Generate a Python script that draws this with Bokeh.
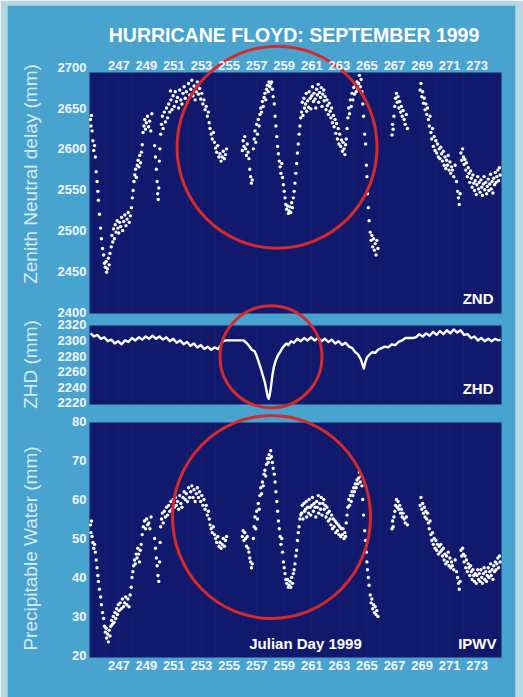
import math
from bokeh.plotting import figure
from bokeh.models import Range1d, LinearAxis, FixedTicker, Label
from bokeh.embed import file_html
from bokeh.resources import INLINE

# ------------------------------------------------------------------ data
day_ticks = list(range(247, 275, 2))
znd_ticks = [2400, 2450, 2500, 2550, 2600, 2650, 2700]
zhd_ticks = [2220, 2240, 2260, 2280, 2300, 2320]
pw_ticks = [20, 30, 40, 50, 60, 70, 80]

# Zenith neutral delay (mm): (Julian day, mm)
znd_points = [
    (244.95, 2636), (244.98, 2628), (245.02, 2641), (245.06, 2622), (245.12, 2610), (245.18, 2598),
    (245.24, 2604), (245.30, 2590), (245.36, 2572), (245.42, 2560), (245.48, 2548), (245.52, 2537),
    (245.60, 2520), (245.68, 2503), (245.74, 2490), (245.82, 2478), (245.90, 2470), (245.96, 2460),
    (246.02, 2455), (246.08, 2462), (246.12, 2449), (246.18, 2453), (246.24, 2466), (246.30, 2458),
    (246.36, 2472), (246.45, 2480), (246.50, 2494), (246.56, 2486), (246.62, 2502), (246.68, 2490),
    (246.74, 2507), (246.80, 2498), (246.88, 2512), (246.94, 2503), (247.00, 2497), (247.06, 2510),
    (247.14, 2505), (247.20, 2516), (247.28, 2500), (247.36, 2511), (247.44, 2519), (247.52, 2506),
    (247.60, 2514), (247.68, 2522), (247.76, 2510), (247.84, 2518), (247.92, 2528), (247.98, 2540),
    (248.04, 2549), (248.10, 2560), (248.16, 2568), (248.22, 2575), (248.28, 2565), (248.34, 2580),
    (248.40, 2586), (248.46, 2578), (248.52, 2592), (248.58, 2583), (248.64, 2596), (248.70, 2605),
    (248.76, 2620), (248.82, 2628), (248.88, 2636), (248.94, 2624), (249.00, 2632), (249.08, 2640),
    (249.16, 2627), (249.24, 2634), (249.32, 2622), (249.40, 2643), (249.60, 2604), (249.66, 2590),
    (249.72, 2575), (249.78, 2560), (249.82, 2545), (249.86, 2538), (249.90, 2552), (249.94, 2585),
    (249.98, 2600), (250.04, 2618), (250.10, 2630), (250.16, 2640), (250.22, 2625), (250.30, 2645),
    (250.38, 2633), (250.46, 2650), (250.54, 2638), (250.62, 2655), (250.70, 2645), (250.75, 2671),
    (250.78, 2660), (250.86, 2648), (250.94, 2665), (251.02, 2652), (251.10, 2670), (251.18, 2658),
    (251.26, 2663), (251.34, 2650), (251.42, 2672), (251.50, 2660), (251.58, 2655), (251.66, 2668),
    (251.74, 2676), (251.82, 2662), (251.90, 2670), (251.98, 2657), (252.06, 2680), (252.14, 2666),
    (252.22, 2673), (252.30, 2684), (252.38, 2665), (252.46, 2677), (252.54, 2660), (252.62, 2670),
    (252.70, 2682), (252.78, 2667), (252.86, 2674), (252.94, 2661), (253.02, 2668), (253.10, 2655),
    (253.18, 2660), (253.26, 2648), (253.34, 2652), (253.42, 2640), (253.50, 2645), (253.56, 2632),
    (253.62, 2625), (253.70, 2618), (253.78, 2612), (253.86, 2620), (253.94, 2608), (254.02, 2601),
    (254.10, 2596), (254.18, 2604), (254.26, 2590), (254.34, 2594), (254.42, 2585), (254.50, 2590),
    (254.58, 2597), (254.66, 2588), (254.74, 2593), (254.82, 2600), (255.96, 2598), (256.02, 2610),
    (256.08, 2603), (256.14, 2615), (256.20, 2600), (256.26, 2592), (256.32, 2606), (256.38, 2596),
    (256.44, 2588), (256.50, 2575), (256.56, 2566), (256.62, 2558), (256.68, 2562), (256.76, 2600),
    (256.82, 2612), (256.88, 2622), (256.94, 2608), (257.00, 2630), (257.06, 2618), (257.12, 2636),
    (257.18, 2628), (257.24, 2642), (257.30, 2650), (257.36, 2645), (257.42, 2658), (257.48, 2652),
    (257.54, 2663), (257.60, 2668), (257.66, 2660), (257.72, 2673), (257.78, 2678), (257.84, 2670),
    (257.90, 2682), (257.96, 2676), (258.02, 2680), (258.08, 2682), (258.14, 2673), (258.20, 2664),
    (258.28, 2655), (258.34, 2640), (258.40, 2628), (258.46, 2615), (258.52, 2603), (258.58, 2594),
    (258.64, 2585), (258.70, 2578), (258.76, 2570), (258.82, 2582), (258.88, 2565), (258.94, 2556),
    (259.00, 2548), (259.06, 2540), (259.12, 2532), (259.18, 2526), (259.24, 2530), (259.30, 2521),
    (259.36, 2524), (259.42, 2529), (259.48, 2522), (259.54, 2534), (259.60, 2528), (259.66, 2540),
    (259.72, 2548), (259.78, 2558), (259.84, 2570), (259.90, 2582), (259.96, 2595), (260.02, 2606),
    (260.08, 2618), (260.14, 2628), (260.20, 2638), (260.26, 2645), (260.31, 2657), (260.36, 2641),
    (260.43, 2662), (260.47, 2650), (260.55, 2655), (260.60, 2668), (260.63, 2646), (260.70, 2659),
    (260.77, 2651), (260.81, 2670), (260.88, 2662), (260.93, 2649), (261.00, 2665), (261.05, 2676),
    (261.12, 2658), (261.16, 2668), (261.24, 2661), (261.29, 2650), (261.35, 2673), (261.41, 2666),
    (261.47, 2679), (261.50, 2657), (261.57, 2669), (261.63, 2663), (261.69, 2675), (261.74, 2652),
    (261.80, 2667), (261.87, 2672), (261.90, 2659), (261.97, 2664), (262.03, 2648), (262.10, 2660),
    (262.14, 2653), (262.20, 2642), (262.27, 2656), (262.33, 2646), (262.39, 2638), (262.44, 2650),
    (262.50, 2632), (262.57, 2641), (262.62, 2627), (262.69, 2636), (262.74, 2619), (262.80, 2631),
    (262.86, 2612), (262.92, 2625), (262.97, 2606), (263.03, 2618), (263.10, 2603), (263.15, 2611),
    (263.22, 2597), (263.27, 2608), (263.34, 2600), (263.40, 2593), (263.45, 2605), (263.50, 2612),
    (263.56, 2625), (263.62, 2638), (263.68, 2650), (263.74, 2643), (263.80, 2660), (263.86, 2652),
    (263.92, 2668), (263.98, 2660), (264.04, 2675), (264.10, 2667), (264.16, 2678), (264.22, 2670),
    (264.28, 2682), (264.34, 2674), (264.40, 2680), (264.46, 2690), (264.52, 2676), (264.58, 2685),
    (264.64, 2670), (264.70, 2655), (264.76, 2640), (264.84, 2618), (264.90, 2606), (264.96, 2580),
    (265.00, 2566), (265.04, 2545), (265.10, 2528), (265.16, 2512), (265.24, 2498), (265.30, 2488),
    (265.36, 2494), (265.42, 2480), (265.48, 2490), (265.54, 2476), (265.60, 2484), (265.66, 2470),
    (265.72, 2488), (265.80, 2478), (266.82, 2617), (266.86, 2630), (266.90, 2624), (266.96, 2640),
    (267.02, 2652), (267.08, 2662), (267.14, 2668), (267.20, 2657), (267.26, 2664), (267.32, 2650),
    (267.38, 2658), (267.44, 2645), (267.50, 2652), (267.56, 2640), (267.62, 2647), (267.70, 2636),
    (267.78, 2630), (267.86, 2642), (267.94, 2625), (268.86, 2672), (268.92, 2680), (268.98, 2664),
    (269.04, 2670), (269.10, 2656), (269.16, 2662), (269.22, 2648), (269.28, 2655), (269.34, 2642),
    (269.40, 2650), (269.46, 2636), (269.52, 2628), (269.58, 2640), (269.64, 2620), (269.70, 2612),
    (269.76, 2625), (269.82, 2603), (269.88, 2615), (269.94, 2598), (270.00, 2610), (270.06, 2595),
    (270.12, 2606), (270.18, 2590), (270.24, 2600), (270.30, 2588), (270.36, 2602), (270.42, 2594),
    (270.48, 2585), (270.54, 2597), (270.60, 2580), (270.66, 2590), (270.72, 2576), (270.78, 2586),
    (270.84, 2580), (270.90, 2592), (270.96, 2574), (271.02, 2584), (271.08, 2570), (271.14, 2578),
    (271.20, 2574), (271.30, 2566), (271.40, 2580), (271.50, 2560), (271.58, 2548), (271.64, 2540),
    (271.70, 2532), (271.76, 2545), (271.82, 2595), (271.88, 2586), (271.94, 2600), (272.00, 2590),
    (272.05, 2581), (272.11, 2587), (272.17, 2574), (272.22, 2583), (272.28, 2566), (272.35, 2577),
    (272.40, 2570), (272.46, 2559), (272.52, 2573), (272.57, 2564), (272.63, 2553), (272.69, 2568),
    (272.75, 2558), (272.80, 2549), (272.86, 2561), (272.93, 2544), (272.98, 2556), (273.04, 2566),
    (273.10, 2551), (273.15, 2559), (273.21, 2547), (273.27, 2562), (273.33, 2553), (273.38, 2543),
    (273.45, 2557), (273.50, 2566), (273.55, 2550), (273.62, 2559), (273.68, 2545), (273.73, 2554),
    (273.80, 2563), (273.85, 2549), (273.91, 2557), (273.97, 2569), (274.02, 2551), (274.08, 2560),
    (274.14, 2546), (274.20, 2564), (274.26, 2556), (274.31, 2571), (274.37, 2559), (274.43, 2566),
    (274.50, 2574), (274.55, 2561), (274.61, 2577), (274.66, 2568),
]

# Zenith hydrostatic delay (mm): (Julian day, mm)
zhd_points = [
    (244.95, 2309), (245.20, 2305), (245.45, 2307), (245.70, 2302), (245.95, 2304), (246.20, 2299),
    (246.45, 2301), (246.70, 2296), (246.95, 2299), (247.20, 2295), (247.45, 2300), (247.70, 2298),
    (247.95, 2303), (248.20, 2300), (248.45, 2304), (248.70, 2301), (248.95, 2305), (249.20, 2302),
    (249.45, 2306), (249.70, 2302), (249.95, 2305), (250.20, 2301), (250.45, 2304), (250.70, 2299),
    (250.95, 2302), (251.20, 2297), (251.45, 2300), (251.70, 2295), (251.95, 2298), (252.20, 2293),
    (252.45, 2296), (252.70, 2291), (252.95, 2294), (253.20, 2289), (253.45, 2292), (253.70, 2288),
    (253.95, 2291), (254.20, 2289), (254.40, 2294), (254.55, 2299), (254.80, 2300), (255.05, 2300),
    (255.30, 2300), (255.55, 2300), (255.80, 2300), (256.05, 2300), (256.25, 2297), (256.45, 2293),
    (256.65, 2288), (256.85, 2286), (257.00, 2280), (257.15, 2272), (257.30, 2264), (257.45, 2255),
    (257.60, 2246), (257.70, 2237), (257.80, 2228), (257.87, 2225), (257.95, 2230), (258.05, 2242),
    (258.15, 2256), (258.25, 2266), (258.40, 2275), (258.55, 2281), (258.70, 2285), (258.85, 2290),
    (259.00, 2293), (259.15, 2296), (259.30, 2294), (259.50, 2299), (259.70, 2297), (259.95, 2302),
    (260.20, 2299), (260.45, 2303), (260.70, 2300), (260.95, 2304), (261.20, 2300), (261.45, 2303),
    (261.70, 2299), (261.95, 2302), (262.20, 2298), (262.45, 2301), (262.70, 2296), (262.95, 2299),
    (263.20, 2294), (263.45, 2297), (263.70, 2292), (263.95, 2290), (264.15, 2285), (264.35, 2282),
    (264.55, 2276), (264.70, 2268), (264.78, 2264), (264.88, 2272), (265.00, 2278), (265.20, 2282),
    (265.40, 2285), (265.60, 2284), (265.80, 2288), (266.05, 2290), (266.30, 2292), (266.55, 2291),
    (266.80, 2295), (267.05, 2294), (267.30, 2298), (267.55, 2300), (267.80, 2303), (268.05, 2303),
    (268.30, 2303), (268.55, 2304), (268.80, 2308), (269.05, 2305), (269.30, 2309), (269.55, 2306),
    (269.80, 2311), (270.05, 2307), (270.30, 2312), (270.55, 2308), (270.80, 2313), (271.05, 2309),
    (271.30, 2314), (271.55, 2310), (271.80, 2313), (272.05, 2307), (272.30, 2308), (272.55, 2303),
    (272.80, 2305), (273.05, 2300), (273.30, 2303), (273.55, 2299), (273.80, 2302), (274.05, 2299),
    (274.30, 2302), (274.55, 2300), (274.70, 2301),
]

# Integrated precipitable water vapour (mm): (Julian day, mm)
pw_points = [
    (244.95, 53.5), (244.98, 51.5), (245.02, 54.5), (245.06, 50.5), (245.12, 49.0), (245.18, 47.5),
    (245.24, 48.5), (245.30, 46.5), (245.36, 44.5), (245.42, 42.5), (245.48, 40.5), (245.52, 39.0),
    (245.60, 37.0), (245.68, 35.0), (245.74, 33.0), (245.82, 31.0), (245.90, 29.5), (245.96, 27.5),
    (246.02, 26.0), (246.08, 27.0), (246.12, 24.5), (246.18, 25.5), (246.24, 23.5), (246.30, 26.5),
    (246.36, 25.0), (246.42, 27.5), (246.48, 29.0), (246.54, 28.0), (246.60, 30.0), (246.66, 28.5),
    (246.72, 31.0), (246.78, 29.5), (246.84, 32.0), (246.90, 30.5), (246.96, 33.0), (247.02, 31.5),
    (247.10, 33.5), (247.18, 32.0), (247.26, 34.5), (247.34, 32.5), (247.42, 33.5), (247.50, 35.0),
    (247.58, 33.0), (247.66, 34.5), (247.74, 32.5), (247.82, 35.5), (247.90, 37.5), (247.96, 40.0),
    (248.02, 41.5), (248.08, 43.0), (248.14, 44.5), (248.20, 43.5), (248.26, 46.0), (248.32, 45.0),
    (248.38, 47.5), (248.44, 46.0), (248.50, 44.0), (248.56, 47.0), (248.62, 48.5), (248.70, 51.0),
    (248.78, 53.0), (248.86, 54.5), (248.94, 52.5), (249.02, 55.0), (249.10, 53.5), (249.18, 54.0),
    (249.26, 52.5), (249.34, 55.5), (249.60, 50.0), (249.66, 47.5), (249.72, 45.0), (249.78, 43.0),
    (249.84, 40.5), (249.90, 39.0), (249.96, 44.0), (250.00, 49.0), (250.04, 53.0), (250.10, 55.0),
    (250.16, 56.5), (250.22, 54.0), (250.30, 57.0), (250.38, 55.5), (250.46, 58.0), (250.54, 56.0),
    (250.62, 58.5), (250.70, 57.0), (250.78, 59.5), (250.86, 57.5), (250.94, 60.0), (251.02, 58.0),
    (251.10, 60.5), (251.18, 58.5), (251.26, 59.5), (251.34, 57.5), (251.42, 61.0), (251.50, 59.0),
    (251.58, 58.0), (251.66, 60.5), (251.74, 62.0), (251.82, 60.0), (251.90, 61.5), (251.98, 59.5),
    (252.06, 63.0), (252.14, 60.5), (252.22, 62.0), (252.30, 63.5), (252.38, 60.5), (252.46, 62.5),
    (252.54, 59.5), (252.62, 61.5), (252.70, 63.0), (252.78, 60.5), (252.86, 62.0), (252.94, 59.5),
    (253.02, 61.0), (253.10, 58.5), (253.18, 60.0), (253.26, 57.5), (253.34, 58.5), (253.42, 56.0),
    (253.50, 57.0), (253.56, 55.0), (253.62, 53.5), (253.70, 52.5), (253.78, 51.5), (253.86, 53.0),
    (253.94, 51.0), (254.02, 50.0), (254.10, 49.0), (254.18, 50.5), (254.26, 48.0), (254.34, 49.0),
    (254.42, 47.5), (254.50, 48.5), (254.58, 50.0), (254.66, 48.0), (254.74, 49.5), (254.82, 50.5),
    (255.96, 50.5), (256.02, 52.0), (256.08, 49.5), (256.14, 51.5), (256.20, 50.0), (256.26, 48.0),
    (256.32, 50.5), (256.38, 47.5), (256.44, 46.5), (256.50, 45.0), (256.56, 44.0), (256.62, 42.5),
    (256.68, 43.5), (256.76, 50.0), (256.82, 53.0), (256.88, 55.5), (256.94, 52.5), (257.00, 57.0),
    (257.06, 55.0), (257.12, 59.0), (257.18, 57.5), (257.24, 61.0), (257.30, 63.0), (257.36, 61.5),
    (257.42, 64.5), (257.48, 63.5), (257.54, 66.5), (257.60, 67.5), (257.66, 66.0), (257.72, 69.0),
    (257.78, 70.5), (257.84, 69.5), (257.90, 71.5), (257.96, 70.5), (258.02, 72.5), (258.08, 71.0),
    (258.14, 69.5), (258.20, 68.0), (258.28, 66.5), (258.34, 64.5), (258.40, 62.0), (258.46, 59.5),
    (258.52, 57.0), (258.58, 54.5), (258.64, 52.5), (258.70, 50.5), (258.76, 48.5), (258.82, 50.0),
    (258.88, 46.5), (258.94, 44.0), (259.00, 42.5), (259.06, 41.0), (259.12, 39.5), (259.18, 38.5),
    (259.24, 39.5), (259.30, 37.5), (259.36, 38.0), (259.42, 39.0), (259.48, 37.5), (259.54, 40.0),
    (259.60, 38.5), (259.66, 41.0), (259.72, 42.0), (259.78, 43.5), (259.84, 45.5), (259.90, 47.0),
    (259.96, 49.5), (260.02, 51.5), (260.08, 53.0), (260.14, 55.0), (260.20, 56.0), (260.26, 56.5),
    (260.31, 58.5), (260.36, 55.0), (260.43, 59.0), (260.47, 57.0), (260.55, 57.5), (260.60, 59.5),
    (260.63, 55.5), (260.70, 58.0), (260.77, 56.5), (260.81, 60.0), (260.88, 58.0), (260.93, 56.0),
    (261.00, 58.5), (261.05, 60.5), (261.12, 57.0), (261.16, 59.0), (261.24, 58.0), (261.29, 55.5),
    (261.35, 59.5), (261.41, 58.0), (261.47, 61.0), (261.50, 56.5), (261.57, 59.0), (261.63, 57.5),
    (261.69, 60.5), (261.74, 56.0), (261.80, 59.0), (261.87, 60.0), (261.90, 57.5), (261.97, 58.5),
    (262.03, 55.5), (262.10, 58.0), (262.14, 56.5), (262.20, 54.5), (262.27, 57.0), (262.33, 55.0),
    (262.39, 53.5), (262.44, 56.0), (262.50, 52.5), (262.57, 55.0), (262.62, 53.0), (262.69, 54.5),
    (262.74, 51.5), (262.80, 54.0), (262.86, 52.0), (262.92, 53.5), (262.97, 51.0), (263.03, 53.0),
    (263.10, 50.5), (263.15, 52.5), (263.22, 51.0), (263.27, 52.5), (263.34, 50.0), (263.40, 51.5),
    (263.45, 50.5), (263.50, 54.0), (263.56, 56.0), (263.62, 58.0), (263.68, 60.0), (263.74, 58.5),
    (263.80, 61.0), (263.86, 59.5), (263.92, 62.0), (263.98, 61.0), (264.04, 63.0), (264.10, 62.0),
    (264.16, 64.0), (264.22, 63.0), (264.28, 65.0), (264.34, 64.0), (264.40, 65.5), (264.46, 67.0),
    (264.52, 64.5), (264.58, 66.0), (264.64, 63.5), (264.70, 60.0), (264.76, 56.0), (264.84, 52.0),
    (264.90, 49.5), (264.96, 46.5), (265.00, 44.0), (265.04, 42.0), (265.10, 40.0), (265.16, 38.0),
    (265.24, 35.5), (265.30, 33.5), (265.36, 34.5), (265.42, 32.0), (265.48, 33.0), (265.54, 31.0),
    (265.60, 32.5), (265.66, 30.5), (265.72, 31.5), (265.80, 30.0), (266.82, 52.5), (266.86, 54.5),
    (266.90, 53.0), (266.96, 55.5), (267.02, 57.0), (267.08, 58.5), (267.14, 60.0), (267.20, 58.0),
    (267.26, 59.5), (267.32, 57.5), (267.38, 58.5), (267.44, 56.5), (267.50, 57.5), (267.56, 55.5),
    (267.62, 56.5), (267.70, 55.0), (267.78, 54.0), (267.86, 55.5), (267.94, 53.5), (268.86, 58.5),
    (268.92, 60.5), (268.98, 57.5), (269.04, 59.0), (269.10, 56.5), (269.16, 58.0), (269.22, 55.5),
    (269.28, 57.0), (269.34, 55.0), (269.40, 56.5), (269.46, 54.0), (269.52, 52.5), (269.58, 54.5),
    (269.64, 51.0), (269.70, 49.5), (269.76, 51.5), (269.82, 48.5), (269.88, 50.0), (269.94, 47.5),
    (270.00, 49.5), (270.06, 47.0), (270.12, 48.5), (270.18, 46.0), (270.24, 48.0), (270.30, 46.5),
    (270.36, 48.5), (270.42, 47.0), (270.48, 45.5), (270.54, 47.5), (270.60, 44.5), (270.66, 46.0),
    (270.72, 43.5), (270.78, 45.5), (270.84, 44.0), (270.90, 46.5), (270.96, 43.0), (271.02, 45.0),
    (271.08, 42.5), (271.14, 44.0), (271.20, 43.0), (271.30, 42.0), (271.40, 44.5), (271.50, 41.5),
    (271.58, 40.0), (271.64, 38.5), (271.70, 37.0), (271.76, 39.0), (271.82, 47.0), (271.88, 45.5),
    (271.94, 47.5), (272.00, 46.0), (272.05, 44.0), (272.11, 45.5), (272.17, 42.5), (272.22, 44.5),
    (272.28, 41.5), (272.35, 43.5), (272.40, 42.5), (272.46, 40.5), (272.52, 43.0), (272.57, 41.5),
    (272.63, 39.5), (272.69, 42.0), (272.75, 40.5), (272.80, 39.0), (272.86, 41.0), (272.93, 38.5),
    (272.98, 40.5), (273.04, 42.0), (273.10, 39.5), (273.15, 41.0), (273.21, 39.0), (273.27, 42.0),
    (273.33, 40.0), (273.38, 38.5), (273.45, 41.0), (273.50, 42.5), (273.55, 39.5), (273.62, 41.5),
    (273.68, 39.0), (273.73, 40.5), (273.80, 42.5), (273.85, 40.0), (273.91, 41.5), (273.97, 43.5),
    (274.02, 40.5), (274.08, 42.0), (274.14, 39.5), (274.20, 43.0), (274.26, 41.5), (274.31, 44.0),
    (274.37, 42.0), (274.43, 43.5), (274.50, 45.0), (274.55, 42.5), (274.61, 45.5), (274.66, 44.0),
]

# centres of the red highlight rings (Julian day, value in each panel's unit)
ring_day = [258.48, 258.04, 258.08]
ring_value = [2602, 2279, 55.5]

# ------------------------------------------------------------------ layout / style
FONT = "Liberation Sans"
PAGE_BG = "#b7d8e3"
BLUE = "#49a3cf"
NAVY = "#10196c"
GRIDC = "#161f74"
RED = "#d42a2c"
WHITE = "#ffffff"
TICKC = "#f2f6fa"
SOFT = "#d8ebf4"

W, H = 523, 697
FRAME_L, FRAME_R, FRAME_T, FRAME_B = 7, 515, 5, 697
PANEL_L, PANEL_R = 89, 501
PANEL_Y = {"znd": (72, 313), "zhd": (325, 404), "pw": (422, 657)}
X_ANCHORS = ((247, 118.3), (273, 476.7))
Y_ANCHORS = {"znd": ((2700, 66.7), (2400, 311.7)),
             "zhd": ((2320, 324.3), (2220, 402.3)),
             "pw": ((80, 421.0), (20, 655.0))}
RING_SIZE = [(200, 202), (102, 102), (198, 203)]


def fitted_range(anchors, px_start, px_end):
    (v0, p0), (v1, p1) = anchors
    k = (v1 - v0) / (p1 - p0)
    return Range1d(start=v0 + (px_start - p0) * k, end=v0 + (px_end - p0) * k)


p = figure(width=W, height=H, x_range=Range1d(FRAME_L, FRAME_R), y_range=Range1d(FRAME_B, FRAME_T),
           x_axis_location=None, y_axis_location=None, toolbar_location=None,
           output_backend="svg", title=None,
           min_border_left=FRAME_L, min_border_right=W - FRAME_R,
           min_border_top=FRAME_T, min_border_bottom=H - FRAME_B,
           background_fill_color=BLUE, border_fill_color=PAGE_BG, outline_line_color=None)
p.grid.visible = False
p.extra_x_ranges = {"day": fitted_range(X_ANCHORS, FRAME_L, FRAME_R)}
p.extra_y_ranges = {k: fitted_range(a, FRAME_B, FRAME_T) for k, a in Y_ANCHORS.items()}

# panels
names = ["znd", "zhd", "pw"]
p.quad(left=[PANEL_L] * 3, right=[PANEL_R] * 3,
       top=[PANEL_Y[n][0] for n in names], bottom=[PANEL_Y[n][1] for n in names],
       fill_color=NAVY, line_color=None)

# faint daily grid inside the panels
gx, gy0, gy1 = [], [], []
for n in names:
    for d in range(245, 275):
        gx.append(d)
        gy0.append(PANEL_Y[n][0] + 1)
        gy1.append(PANEL_Y[n][1] - 1)
p.segment(x0=gx, x1=gx, y0=gy0, y1=gy1, line_color=GRIDC, line_width=1,
          x_range_name="day")

# data
p.scatter([d for d, _ in znd_points], [v for _, v in znd_points], size=3.4,
          fill_color=WHITE, line_color=None, x_range_name="day", y_range_name="znd")
p.line([d for d, _ in zhd_points], [v for _, v in zhd_points], line_width=2.4,
       line_color=WHITE, line_join="round", x_range_name="day", y_range_name="zhd")
p.scatter([d for d, _ in pw_points], [v for _, v in pw_points], size=3.4,
          fill_color=WHITE, line_color=None, x_range_name="day", y_range_name="pw")

# red highlight rings
for i, n in enumerate(names):
    p.ellipse(x=[ring_day[i]], y=[ring_value[i]], width=RING_SIZE[i][0], height=RING_SIZE[i][1],
              width_units="screen", height_units="screen", fill_color=None,
              line_color=RED, line_width=3, x_range_name="day", y_range_name=n)


def style_axis(ax, standoff):
    ax.axis_line_color = None
    ax.major_tick_line_color = None
    ax.minor_tick_line_color = None
    ax.major_tick_out = 0
    ax.major_tick_in = 0
    ax.major_label_standoff = standoff
    ax.major_label_text_font = FONT
    ax.major_label_text_font_style = "bold"
    ax.major_label_text_font_size = "13px"
    ax.major_label_text_color = TICKC


top_ax = LinearAxis(x_range_name="day", ticker=FixedTicker(ticks=day_ticks),
                    fixed_location=PANEL_Y["znd"][0])
style_axis(top_ax, 3)
p.add_layout(top_ax, "above")

bot_ax = LinearAxis(x_range_name="day", ticker=FixedTicker(ticks=day_ticks),
                    fixed_location=PANEL_Y["pw"][1])
style_axis(bot_ax, 3)
p.add_layout(bot_ax, "below")

for n, ticks in zip(names, [znd_ticks, zhd_ticks, pw_ticks]):
    ax = LinearAxis(y_range_name=n, ticker=FixedTicker(ticks=ticks), fixed_location=PANEL_L)
    style_axis(ax, 3)
    p.add_layout(ax, "left")


# texts
def add_label(text, x, y, size, bold=True, color=WHITE, align="center", angle=0.0):
    p.add_layout(Label(x=x, y=y, text=text, text_font=FONT, text_font_size=size,
                       text_font_style="bold" if bold else "normal", text_color=color,
                       text_align=align, text_baseline="middle", angle=angle))


add_label("HURRICANE FLOYD: SEPTEMBER 1999", 293.5, 34, "19.5px")
add_label("Zenith Neutral delay (mm)", 30, 173.5, "19px", bold=False, color=SOFT, angle=math.pi / 2)
add_label("ZHD (mm)", 30, 364, "19px", bold=False, color=SOFT, angle=math.pi / 2)
add_label("Precipitable Water (mm)", 30, 548, "19px", bold=False, color=SOFT, angle=math.pi / 2)
add_label("ZND", 493, 298, "15px", align="right")
add_label("ZHD", 493, 387.5, "15px", align="right")
add_label("IPWV", 496, 643, "15px", align="right")
add_label("Julian Day 1999", 305, 643, "15px")

open("out.html", "w").write(file_html(p, INLINE))
